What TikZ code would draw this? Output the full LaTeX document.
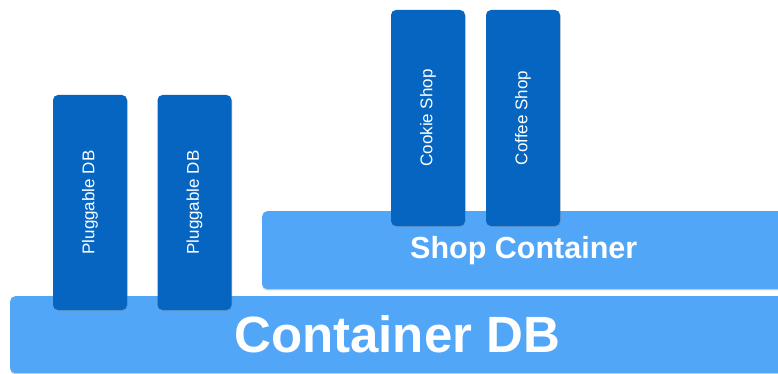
\documentclass[tikz,border=0pt]{standalone}
\usepackage{fontspec}
\setmainfont{Liberation Sans}
\usetikzlibrary{shadows}
\definecolor{darkblue}{RGB}{5,101,192}
\definecolor{lightblue}{RGB}{82,166,248}

\begin{document}
\begin{tikzpicture}[x=1pt, y=-1pt,
  base/.style={rectangle, fill=lightblue, rounded corners=5pt, inner sep=0pt, text=white, font=\bfseries, drop shadow={shadow xshift=0pt, shadow yshift=-1.2pt, opacity=0.35}},
  pdb/.style={rectangle, fill=darkblue, rounded corners=5pt, inner sep=0pt, text=white, rotate=90, minimum width=215pt, minimum height=74pt, font=\fontsize{17}{19}\selectfont, drop shadow={shadow xshift=0.8pt, shadow yshift=-1pt, opacity=0.35}}
]
\useasboundingbox (0,0) rectangle (778,374);
\clip (0,0) rectangle (778,374);

% Bottom layer
\node[base, anchor=north west, minimum width=774pt, minimum height=77pt, font=\bfseries\fontsize{51}{56}\selectfont] (cdb) at (10,296) {Container DB};

% Pluggable DBs
\node[pdb] (pdb1) at (90,202.5) {Pluggable DB};
\node[pdb] (pdb2) at (194.5,202.5) {Pluggable DB};

% Shop layer
\node[base, anchor=north west, minimum width=523pt, minimum height=78pt, font=\bfseries\fontsize{30.5}{33}\selectfont] (shop) at (262,211) {Shop Container};

% Shops
\node[pdb, minimum width=216pt] (cookie) at (428,118) {Cookie Shop};
\node[pdb, minimum width=216pt] (coffee) at (523,118) {Coffee Shop};

\end{tikzpicture}
\end{document}
